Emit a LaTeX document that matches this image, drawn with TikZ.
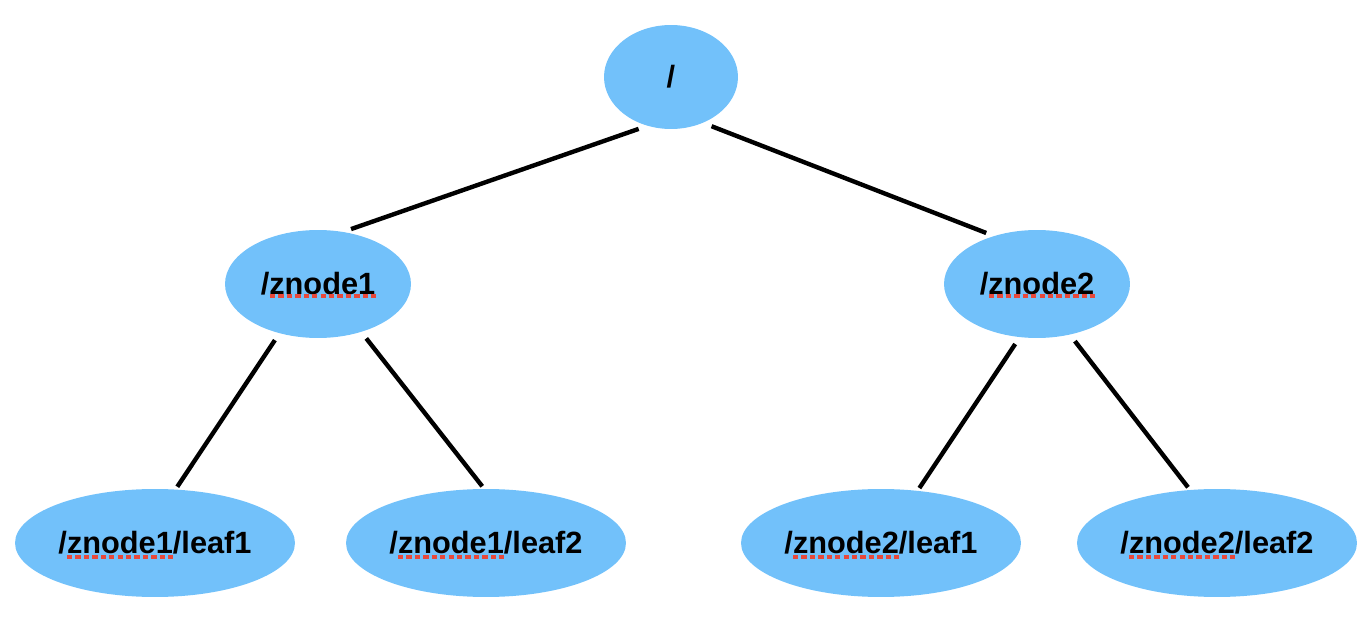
\documentclass[tikz,border=0pt]{standalone}
\usepackage{fontspec}
\setmainfont{Liberation Sans}
\usetikzlibrary{shapes.geometric,calc}
\definecolor{nodeblue}{RGB}{114,193,250}
\definecolor{spellred}{RGB}{232,72,58}
\tikzset{
  tnode/.style={ellipse, fill=nodeblue, inner sep=0pt, font=\fontsize{17.5}{21}\selectfont\bfseries},
  smallnode/.style={tnode, minimum width=3.72cm, minimum height=2.16cm},
  rootnode/.style={tnode, minimum width=2.68cm, minimum height=2.08cm},
  leafnode/.style={tnode, minimum width=5.6cm, minimum height=2.16cm},
  edge/.style={line width=2.5pt, shorten <=0.16cm, shorten >=0.06cm},
  rootedge/.style={line width=2.5pt, shorten <=0.18cm, shorten >=0.16cm},
  squig/.style={spellred, line width=2pt, dash pattern=on 3pt off 1.8pt}
}
\begin{document}
\begin{tikzpicture}[x=0.02cm, y=-0.02cm]
\useasboundingbox (0,0) rectangle (1360,618);
\node[rootnode] (root) at (671,77) {/};
\node[smallnode] (z1) at (318,284) {/znode1};
\node[smallnode] (z2) at (1037,284) {/znode2};
\node[leafnode] (l11) at (155,543) {/znode1/leaf1};
\node[leafnode] (l12) at (486,543) {/znode1/leaf2};
\node[leafnode] (l21) at (881,543) {/znode2/leaf1};
\node[leafnode] (l22) at (1217,543) {/znode2/leaf2};
\draw[rootedge] (root.244) -- (z1.64);
\draw[rootedge] (root.305) -- (z2.132);
\draw[edge] (z1.232) -- (l11.69);
\draw[edge] (z1.312) -- (l12.92);
\draw[edge] (z2.252) -- (l21.55);
\draw[edge] (z2.303) -- (l22.117);
\foreach \n in {z1,z2} {
  \draw[squig] ($(\n)+(-48,12)$) -- ($(\n)+(58,12)$);
}
\foreach \n in {l11,l12,l21,l22} {
  \draw[squig] ($(\n)+(-88,14)$) -- ($(\n)+(19,14)$);
}
\end{tikzpicture}
\end{document}
